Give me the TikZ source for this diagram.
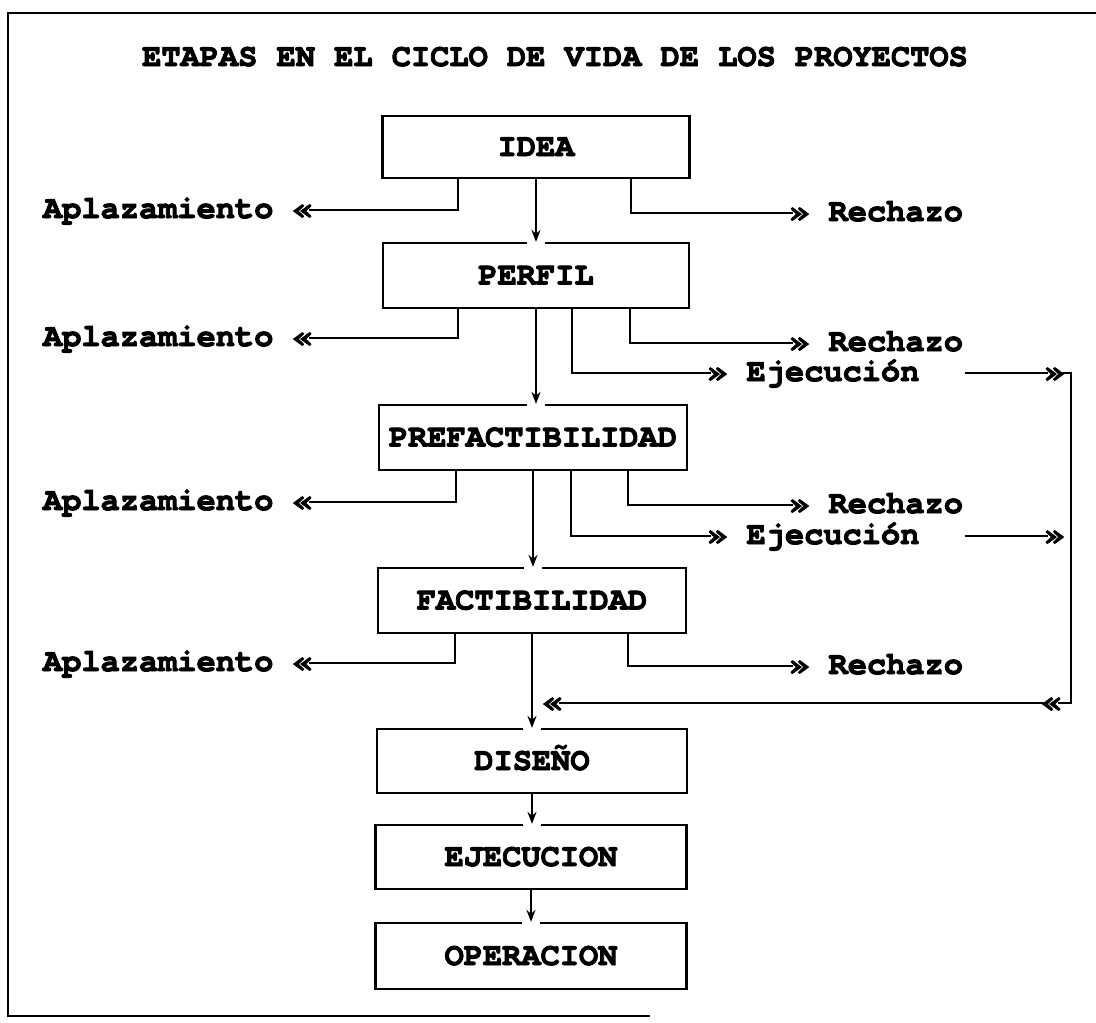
\documentclass[tikz,border=0pt]{standalone}
\usepackage{fontspec}
\setmainfont{TeX Gyre Cursor}[BoldFeatures={FakeBold=3}]
\usetikzlibrary{arrows.meta}
\begin{document}
\begin{tikzpicture}[x=1pt,y=-1pt,
  txt/.style={font=\bfseries\fontsize{32}{32}\selectfont},
  box/.style={txt,draw,line width=2.2pt,minimum width=308pt,minimum height=65pt,inner sep=0pt,text height=18pt,text depth=0pt},
  lab/.style={txt,inner sep=0pt,text height=16pt,text depth=0pt},
  con/.style={line width=2pt},
  tog/.style={con,shorten >=-3pt},
  both/.style={con,shorten >=-3pt,shorten <=-3pt},
  arr/.style={con,-{Stealth[length=12pt,width=9pt]}},
  gapc/.style={fill=white,inner sep=0pt,minimum width=18pt,minimum height=6pt}]
\useasboundingbox (0,0) rectangle (1096,1023);
% frame
\draw[line width=2.4pt] (1096,13) -- (8,13) -- (8,1016) -- (650,1016);
\node[txt,text height=18pt,text depth=0pt,inner sep=0pt] (title) at (555,57) {ETAPAS EN EL CICLO DE VIDA DE LOS PROYECTOS};
% boxes
\node[box,minimum width=307pt,minimum height=62pt] (idea) at (536,147) {IDEA};
\node[box,minimum width=306pt] (perfil) at (536,275.5) {PERFIL};
\node[box] (prefact) at (533,437.5) {PREFACTIBILIDAD};
\node[box] (fact) at (532,600.5) {FACTIBILIDAD};
\node[box,minimum width=310pt,minimum height=64pt] (diseno) at (532,761) {DISEÑO};
\node[box,minimum width=311pt,minimum height=64pt] (ejec) at (531,857) {EJECUCION};
\node[box,minimum width=311pt,minimum height=66pt] (oper) at (531,956) {OPERACION};
% labels
\node[lab,anchor=east] (apl1) at (312,210) {Aplazamiento «};
\node[lab,anchor=east] (apl2) at (312,338) {Aplazamiento «};
\node[lab,anchor=east] (apl3) at (312,502) {Aplazamiento «};
\node[lab,anchor=east] (apl4) at (312,663) {Aplazamiento «};
\node[lab,anchor=west] (rec1) at (790,213) {» Rechazo};
\node[lab,anchor=west] (rec2) at (790,343) {» Rechazo};
\node[lab,anchor=west] (rec3) at (790,505) {» Rechazo};
\node[lab,anchor=west] (rec4) at (790,666) {» Rechazo};
\node[lab,anchor=west] (eje1) at (708,373) {» Ejecución};
\node[lab,anchor=west] (eje2) at (708,536) {» Ejecución};
\node[lab,anchor=west] (g1) at (1045,373) {»};
\node[lab,anchor=west] (g2) at (1045,536) {»};
\node[lab,anchor=east] (g3) at (1061,703) {«};
\node[lab,anchor=east] (g4) at (562,703) {«};
\coordinate (vr) at (1071,703);
% side branches
\draw[tog] ([xshift=-78]idea.south) |- (apl1.east);
\draw[tog] ([xshift=95]idea.south) |- (rec1.west);
\draw[tog] ([xshift=-78]perfil.south) |- (apl2.east);
\draw[tog] ([xshift=94]perfil.south) |- (rec2.west);
\draw[tog] ([xshift=36]perfil.south) |- (eje1.west);
\draw[tog] ([xshift=-77]prefact.south) |- (apl3.east);
\draw[tog] ([xshift=95]prefact.south) |- (rec3.west);
\draw[tog] ([xshift=38]prefact.south) |- (eje2.west);
\draw[tog] ([xshift=-77]fact.south) |- (apl4.east);
\draw[tog] ([xshift=96]fact.south) |- (rec4.west);
% execution bypass
\draw[tog] ([xshift=45]eje1.east) -- (g1.west);
\draw[tog] ([xshift=45]eje2.east) -- (g2.west);
\draw[both] (g1.east) -| (vr) -- (g3.east);
\draw[both] (g3.west) -- (g4.east);
% gaps in box tops
\node[gapc] at (idea.south |- perfil.north) {};
\node[gapc] at (perfil.south |- prefact.north) {};
\node[gapc] at (prefact.south |- fact.north) {};
\node[gapc] at (fact.south |- diseno.north) {};
\node[gapc] at (diseno.south |- ejec.north) {};
\node[gapc] at (ejec.south |- oper.north) {};
% main arrows
\draw[arr] (idea.south) -- (idea.south |- perfil.north);
\draw[arr] (perfil.south) -- (perfil.south |- prefact.north);
\draw[arr] (prefact.south) -- (prefact.south |- fact.north);
\draw[arr] (fact.south) -- (fact.south |- diseno.north);
\draw[arr] (diseno.south) -- (diseno.south |- ejec.north);
\draw[arr] (ejec.south) -- (ejec.south |- oper.north);
\end{tikzpicture}
\end{document}
